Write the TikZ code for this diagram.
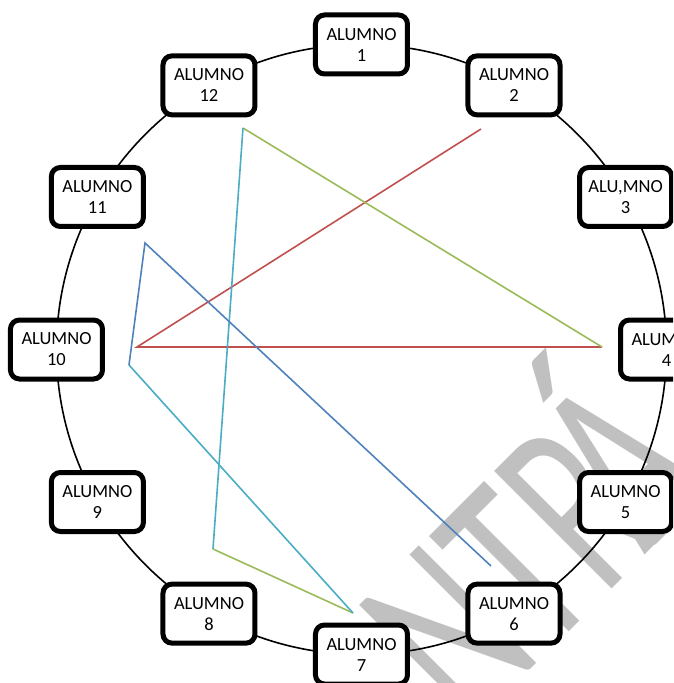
\documentclass[tikz,border=0pt]{standalone}
\usepackage{fontspec}
\setmainfont{Carlito}
\usetikzlibrary{positioning}
\definecolor{linered}{RGB}{192,80,77}
\definecolor{linegreen}{RGB}{155,187,89}
\definecolor{linecyan}{RGB}{75,172,198}
\definecolor{lineblue}{RGB}{79,129,189}
\definecolor{markgray}{RGB}{192,192,192}
\tikzset{alumno/.style={draw, line width=5pt, rounded corners=9pt, fill=white,
  minimum width=92pt, minimum height=59pt, align=center, inner sep=0pt,
  font=\fontsize{18.5}{21}\selectfont}}

\begin{document}
\begin{tikzpicture}[x=1pt, y=1pt, line width=1.6pt]
\clip (-361.5,-333.5) rectangle (311.5,349.5);
%\draw[step=50,gray,very thin] (-350,-330) grid (300,340);
\node[markgray, rotate=45, xscale=0.65, anchor=base west, inner sep=0pt,
  font=\fontsize{259}{259}\selectfont] (marca) at (106.3,-382.8) {NTR\kern-50pt Á};%%
\draw (0,0) circle (305);%%
% puntos de las lineas
\coordinate (ra) at (119.5,220.5);%%
\coordinate (rb) at (-224.5,2.5);%%
\coordinate (gc) at (240.5,2.5);%%
\coordinate (gd) at (-118.5,221.5);%%
\coordinate (ce) at (-148.5,-199.5);%%
\coordinate (gf) at (-8.5,-263.5);%%
\coordinate (cg) at (-232.5,-15.5);%%
\coordinate (bh) at (-216.5,106.5);%%
\coordinate (bi) at (129.5,-216.5);%%
\draw[linered] (ra) -- (rb) -- (gc);%%
\draw[linegreen] (gc) -- (gd);%%
\draw[linecyan] (gd) -- (ce);%%
\draw[linegreen] (ce) -- (gf);%%
\draw[linecyan] (gf) -- (cg);%%
\draw[lineblue] (cg) -- (bh) -- (bi);%%
% alumnos
\node[alumno] (a1) at (90:305) {ALUMNO\\1};%%
\node[alumno] (a2) at (60:305) {ALUMNO\\2};%%
\node[alumno] (a3) at (30:305) {ALU,MNO\\3};%%
\node[alumno] (a4) at (0:305) {ALUMNO\\4};%%
\node[alumno] (a5) at (-30:305) {ALUMNO\\5};%%
\node[alumno] (a6) at (-60:305) {ALUMNO\\6};%%
\node[alumno] (a7) at (-90:305) {ALUMNO\\7};%%
\node[alumno] (a8) at (-120:305) {ALUMNO\\8};%%
\node[alumno] (a9) at (-150:305) {ALUMNO\\9};%%
\node[alumno] (a10) at (180:305) {ALUMNO\\10};%%
\node[alumno] (a11) at (150:305) {ALUMNO\\11};%%
\node[alumno] (a12) at (120:305) {ALUMNO\\12};%%
\end{tikzpicture}
\end{document}
